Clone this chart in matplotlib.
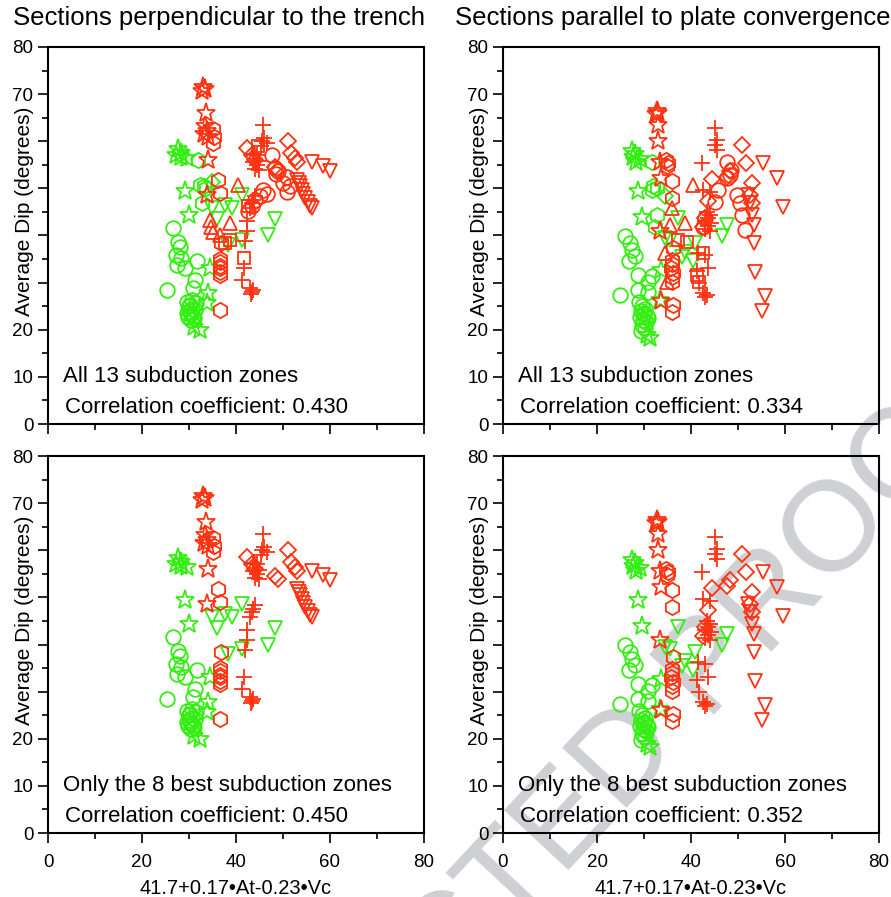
import matplotlib
matplotlib.use("Agg")
import matplotlib.pyplot as plt
from matplotlib.ticker import MultipleLocator, FuncFormatter

plt.rcParams['font.family'] = ['Liberation Sans', 'DejaVu Sans']

RED = '#ff3311'
GREEN = '#33ee11'

# ---------------- Sections perpendicular to the trench ----------------
perp_gcirc_x = [26.7, 27.7, 28.1, 27.2, 28.4, 29.1, 27.5, 31.7, 31.3, 30.9, 25.3, 29.6, 30.2, 30.6, 29.9, 30.4, 30.9, 29.8, 30.5, 31.2, 30.0, 31.5, 30.7, 29.5, 31.0]
perp_gcirc_y = [41.6, 38.7, 37.6, 35.9, 35.2, 33.0, 33.7, 34.5, 30.6, 28.8, 28.5, 25.8, 25.2, 24.5, 24.0, 23.4, 23.0, 22.6, 22.1, 24.1, 25.0, 25.6, 26.4, 23.5, 22.4]
perp_gstar_x = [27.7, 28.4, 27.3, 29.5, 28.2, 29.1, 29.9, 34.5, 34.1, 33.8, 31.0, 32.4]
perp_gstar_y = [58.3, 57.6, 57.0, 56.4, 56.6, 49.4, 44.4, 33.0, 27.7, 25.6, 20.6, 19.9]
perp_gtri_x = [41.2, 37.7, 39.1, 34.8, 35.9, 48.3, 46.9, 41.2, 38.4]
perp_gtri_y = [48.7, 46.5, 45.8, 45.8, 43.4, 43.5, 40.0, 39.1, 38.0]
perp_rstar_x = [33.0, 33.4, 32.7, 33.6, 33.4, 33.8, 33.1, 34.1, 34.1, 33.8]
perp_rstar_y = [71.5, 71.0, 70.6, 66.0, 63.2, 62.2, 61.5, 60.8, 56.1, 48.6]
perp_rhex_x = [35.2, 35.4, 35.2, 36.2, 36.6, 36.9, 36.6, 36.5, 36.7, 36.5, 36.6, 36.7, 36.6]
perp_rhex_y = [62.5, 61.0, 59.6, 51.8, 49.0, 38.4, 35.0, 34.3, 33.6, 33.0, 32.3, 31.7, 24.2]
perp_rplus_x = [45.8, 46.0, 45.5, 46.5, 45.3, 43.7, 44.4, 44.1, 44.8, 43.7, 44.4, 44.1, 44.8, 44.1, 43.7, 43.3, 43.0, 42.3, 42.3, 42.0, 41.6, 41.2, 43.0, 43.4, 43.7, 43.2]
perp_rplus_y = [63.5, 60.7, 60.0, 59.6, 58.9, 57.3, 57.0, 56.3, 55.9, 55.6, 54.9, 54.2, 53.9, 48.3, 47.6, 46.9, 45.8, 43.0, 40.9, 38.8, 33.0, 30.6, 28.8, 28.1, 28.4, 27.6]
perp_rdia_x = [51.1, 51.8, 52.5, 52.9, 42.3, 43.4, 44.1, 48.3, 49.0]
perp_rdia_y = [60.0, 57.5, 56.5, 55.7, 58.5, 57.1, 56.1, 54.6, 53.9]
perp_rtri_x = [56.1, 58.6, 60.0, 53.0, 53.3, 53.6, 54.0, 54.3, 54.6, 55.3, 55.7, 56.1]
perp_rtri_y = [55.7, 54.7, 53.6, 51.8, 51.1, 50.4, 49.6, 48.9, 48.0, 47.2, 46.2, 45.8]
# zones only in the "all 13" panels
perp_ghex_x = [32.0, 32.4, 33.1, 33.7, 32.7]
perp_ghex_y = [56.0, 50.8, 50.4, 50.0, 46.9]
perp_gdia_x = [34.8]
perp_gdia_y = [51.4]
perp_rcirc_x = [47.6, 48.2, 48.9, 48.5, 50.8, 51.5, 50.1, 50.8, 45.8, 46.5, 45.1, 44.1, 43.4, 42.6]
perp_rcirc_y = [57.1, 54.3, 53.6, 53.0, 52.5, 50.4, 51.1, 49.3, 49.6, 48.9, 48.3, 47.6, 46.2, 45.1]
perp_rtriu_x = [40.5, 38.7, 34.4, 34.7, 35.2, 36.6]
perp_rtriu_y = [50.7, 42.6, 43.3, 41.9, 40.8, 40.1]
perp_rsq_x = [38.7, 37.7, 41.6, 44.7, 42.6]
perp_rsq_y = [39.1, 38.4, 35.2, 59.0, 46.2]

# ---------------- Sections parallel to plate convergence ----------------
par_gcirc_x = [26.0, 27.0, 27.4, 28.1, 26.8, 28.8, 31.6, 30.9, 28.8, 24.9, 30.9, 29.0, 29.5, 30.2, 29.3, 30.0, 30.6, 29.1, 29.8, 30.5, 29.6, 30.2, 29.4, 30.8, 29.9]
par_gcirc_y = [39.8, 38.4, 37.0, 35.6, 34.5, 31.7, 31.3, 30.2, 28.5, 27.4, 28.1, 25.8, 25.0, 24.5, 24.0, 23.4, 23.0, 22.6, 22.1, 21.6, 21.0, 20.4, 19.8, 22.4, 23.6]
par_gstar_x = [27.4, 28.1, 27.7, 29.1, 28.4, 28.8, 29.5, 33.7, 33.4, 30.6, 31.3]
par_gstar_y = [57.9, 57.3, 56.6, 56.2, 55.7, 49.4, 44.0, 32.7, 26.3, 18.9, 18.2]
par_gtri_x = [37.3, 47.6, 46.5, 34.5, 35.5, 40.9, 38.7, 38.0, 40.5]
par_gtri_y = [43.7, 42.3, 39.8, 39.4, 39.0, 38.4, 36.6, 35.5, 34.5]
par_rstar_x = [32.7, 33.0, 32.6, 33.0, 33.0, 33.4, 33.7, 33.4, 33.7]
par_rstar_y = [66.4, 66.0, 65.7, 63.5, 60.0, 55.7, 52.2, 40.9, 26.0]
par_rhex_x = [34.6, 35.0, 34.8, 35.9, 35.9, 36.2, 35.9, 36.0, 35.8, 36.1, 35.9, 36.0, 36.2, 35.9]
par_rhex_y = [56.1, 55.4, 54.7, 51.5, 48.0, 37.4, 34.8, 33.9, 33.0, 32.0, 31.1, 30.2, 25.2, 23.8]
par_rplus_x = [45.1, 45.5, 45.1, 45.5, 42.3, 42.6, 44.0, 43.3, 44.0, 43.6, 42.9, 44.3, 43.6, 43.0, 44.0, 41.5, 43.0, 43.7, 41.2, 41.6, 42.6, 43.3, 43.0]
par_rplus_y = [62.8, 60.3, 59.3, 58.2, 55.4, 49.6, 49.3, 45.0, 44.4, 43.7, 43.0, 42.6, 42.0, 41.4, 40.9, 36.2, 35.9, 33.0, 32.4, 29.9, 27.7, 27.4, 27.0]
par_rdia_x = [50.8, 51.8, 48.3, 47.6, 44.4, 52.9, 52.5, 52.9, 43.7, 43.0, 42.6]
par_rdia_y = [59.3, 55.4, 53.6, 52.5, 51.9, 51.1, 48.6, 46.9, 47.3, 43.7, 41.9]
par_rtri_x = [55.4, 58.2, 59.6, 52.2, 52.6, 52.9, 53.3, 53.3, 53.6, 55.8, 55.0]
par_rtri_y = [55.4, 52.2, 46.1, 48.6, 46.9, 44.4, 42.3, 38.4, 32.3, 27.1, 23.9]
# zones only in the "all 13" panels
par_ghex_x = [31.6, 32.0, 32.7, 31.8, 32.7, 32.3]
par_ghex_y = [55.7, 50.4, 50.0, 49.6, 44.4, 41.9]
par_gdia_x = [34.5]
par_gdia_y = [48.3]
par_rcirc_x = [47.6, 48.6, 48.3, 47.6, 49.7, 50.4, 50.8, 51.5, 45.8, 45.1, 43.0, 42.6]
par_rcirc_y = [55.7, 53.9, 52.8, 52.1, 48.6, 46.8, 44.3, 41.2, 49.7, 47.2, 43.7, 41.9]
par_rtriu_x = [40.5, 35.9, 35.5, 38.7, 34.5, 34.8]
par_rtriu_y = [50.7, 45.8, 42.3, 42.6, 36.2, 30.2]
par_rsq_x = [37.3, 39.1, 41.2, 41.6, 42.6]
par_rsq_y = [39.1, 38.7, 31.6, 30.2, 36.2]

titles = ["Sections perpendicular to the trench", "Sections parallel to plate convergence"]
notes_top = "All 13 subduction zones"
notes_bottom = "Only the 8 best subduction zones"
corr = [["0.430", "0.334"], ["0.450", "0.352"]]
xlabel = "41.7+0.17\u2022At-0.23\u2022Vc"
ylabel = "Average Dip (degrees)"
ytick_shown = [0, 10, 20, 70, 80]

# marker styles: (marker, color, markersize)
STY = {
    'gcirc': ('o', GREEN, 10.5), 'gstar': ('*', GREEN, 14), 'gtri': ('v', GREEN, 10),
    'rstar': ('*', RED, 14), 'rhex': ('h', RED, 11), 'rplus': ('+', RED, 12),
    'rdia': ('D', RED, 8), 'rtri': ('v', RED, 10),
    'ghex': ('h', GREEN, 11), 'gdia': ('D', GREEN, 8), 'rcirc': ('o', RED, 10.5),
    'rtriu': ('^', RED, 10), 'rsq': ('s', RED, 8.5),
}
best8 = ['gcirc', 'gstar', 'gtri', 'rstar', 'rhex', 'rplus', 'rdia', 'rtri']
extra = ['ghex', 'gdia', 'rcirc', 'rtriu', 'rsq']
order = ['gcirc', 'ghex', 'gdia', 'gstar', 'gtri', 'rcirc', 'rtriu', 'rsq', 'rhex', 'rdia', 'rtri', 'rplus', 'rstar']
G = globals()

W, H = 891, 897
fig = plt.figure(figsize=(W / 100, H / 100), dpi=100)
fig.patch.set_facecolor('white')

lefts = [48, 503]
tops = [47, 456]
aw, ah = 376, 377

yfmt = FuncFormatter(lambda v, p: f"{v:.0f}" if round(v) in ytick_shown else "")

for row in range(2):
    for col in range(2):
        ax = fig.add_axes([lefts[col] / W, 1 - (tops[row] + ah) / H, aw / W, ah / H])
        ax.set_facecolor('none')
        pre = 'perp' if col == 0 else 'par'
        zones = best8 + extra if row == 0 else best8
        for z in order:
            if z not in zones:
                continue
            m, c, ms = STY[z]
            xs = G[f'{pre}_{z}_x']
            ys = G[f'{pre}_{z}_y']
            ax.plot(xs, ys, linestyle='none', marker=m, markersize=ms,
                    markerfacecolor='none', markeredgecolor=c, markeredgewidth=1.3)
        ax.set_xlim(0, 80)
        ax.set_ylim(0, 80)
        ax.yaxis.set_major_locator(MultipleLocator(10))
        ax.yaxis.set_minor_locator(MultipleLocator(5))
        ax.yaxis.set_major_formatter(yfmt)
        ax.xaxis.set_major_locator(MultipleLocator(20))
        ax.xaxis.set_minor_locator(MultipleLocator(10))
        ax.tick_params(which='major', direction='out', length=7, width=1.2, labelsize=13.5)
        ax.tick_params(axis='x', which='major', pad=8)
        ax.tick_params(which='minor', direction='out', length=4, width=1.2)
        for s in ax.spines.values():
            s.set_linewidth(1.5)
        if row == 0:
            ax.tick_params(axis='x', labelbottom=False)
        else:
            ax.set_xlabel(xlabel, fontsize=14.5, labelpad=6)
        ax.set_ylabel(ylabel, fontsize=15)
        ax.yaxis.set_label_coords(-0.036, 0.565)
        ax.text(0.04, 0.125, notes_top if row == 0 else notes_bottom,
                transform=ax.transAxes, fontsize=16, va='center', ha='left')
        ax.text(0.045, 0.045, "Correlation coefficient: " + corr[row][col],
                transform=ax.transAxes, fontsize=16, va='center', ha='left')
        if row == 0:
            fig.text((lefts[col] - 35 - 13 * col) / W, 1 - 18 / H, titles[col], fontsize=18.5,
                     va='center', ha='left')

fig.text(550 / W, 1 - 842 / H, "CORRECTED PROOF", fontsize=92, color='#cfd0d3',
         rotation=47, ha='center', va='center', rotation_mode='anchor', zorder=-10)

fig.savefig('out.png', dpi=100)
